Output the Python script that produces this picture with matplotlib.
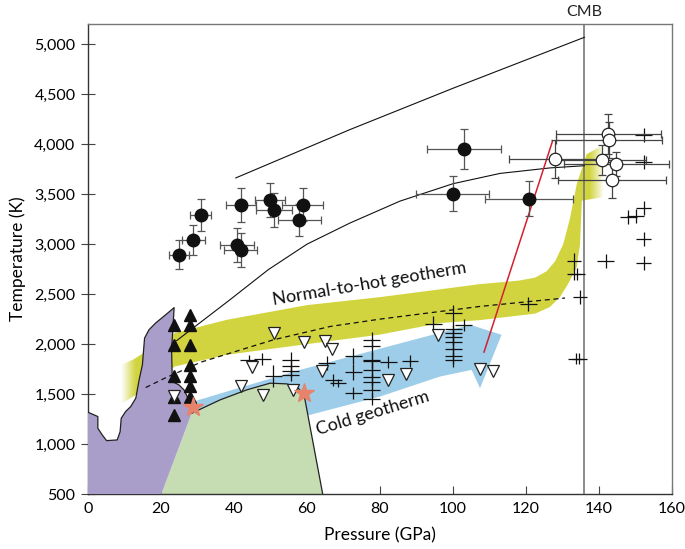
import matplotlib
matplotlib.use("Agg")
import matplotlib.pyplot as plt
import numpy as np
from matplotlib.patches import Polygon
from matplotlib.ticker import FuncFormatter, MultipleLocator

plt.rcParams['font.family'] = ['Lato', 'DejaVu Sans']

# ---- data (pressure in GPa, temperature in K) ----
cmb_p = 136

purple_p = [0, 0, 2.7, 2.7, 3.9, 5.1, 8.0, 8.8, 9.1, 10.3, 11.7, 13.1, 14.0, 14.9, 15.5,
            16.7, 18.5, 21.3, 23.6, 22.9, 23.1, 24.9, 26.3, 27.2, 28.4, 20.1]
purple_t = [500, 1318, 1275, 1158, 1091, 1034, 1041, 1124, 1258, 1325, 1375, 1459, 1642, 1792, 2060,
            2143, 2210, 2294, 2365, 1943, 1625, 1592, 1542, 1475, 1308, 500]

green_p = [28.4, 36.2, 43.5, 49.9, 54.4, 57.2, 59.2, 64.3, 20.1]
green_t = [1308, 1442, 1542, 1609, 1602, 1575, 1492, 500, 500]

yel_top_p = [9.0, 12.6, 23.8, 38, 60, 80, 107.4, 118, 122.5, 125.7, 128, 130.2, 132, 133.9, 136.6, 139.8, 141]
yel_top_t = [1790, 1850, 2110, 2243, 2390, 2470, 2600, 2635, 2665, 2730, 2830, 3000, 3250, 3600, 3900, 3965, 3975]
yel_bot_p = [9.0, 12.6, 23.8, 38, 66.3, 80, 96.4, 107.4, 122.5, 126.5, 129.3, 131.5, 133.9, 134.8, 135.3, 141]
yel_bot_t = [1400, 1480, 1776, 1893, 2030, 2095, 2210, 2240, 2305, 2370, 2470, 2600, 2770, 3000, 3435, 3470]

blue_p = [28.9, 38, 58.1, 80, 104.7, 113.3, 107.4, 105.1, 96.4, 80, 60.8, 40, 28.9]
blue_t = [1425, 1525, 1742, 1954, 2193, 2093, 1558, 1742, 1675, 1475, 1292, 1150, 1300]

upper_p = [40.5, 71.8, 100, 136]
upper_t = [3663, 4147, 4560, 5070]
lower_p = [24.3, 38.9, 49.4, 60, 71.8, 85.5, 100, 112.9, 126.6, 136]
lower_t = [2035, 2444, 2745, 3000, 3212, 3431, 3605, 3708, 3763, 3785]
dash_p = [15.8, 20.8, 31, 50.8, 66.3, 80, 107.4, 130.7]
dash_t = [1565, 1655, 1820, 2043, 2176, 2250, 2377, 2461]
red_p = [108.5, 127.3]
red_t = [1920, 4035]

star_p = [28.7, 59.3]
star_t = [1370, 1512]

tri_up_p = [23.6, 23.6, 23.6, 23.6, 23.6, 27.9, 27.9, 27.9, 27.9, 27.9, 27.9, 27.9]
tri_up_t = [2193, 1993, 1683, 1475, 1292, 2293, 2193, 1993, 1793, 1683, 1583, 1475]

tri_dn_p = [23.6, 41.9, 44.8, 47.9, 51.0, 56.2, 59.1, 64.9, 66.9, 64.0, 82.2, 87.2, 96.0, 107.4, 111.0]
tri_dn_t = [1480, 1580, 1773, 1490, 2110, 1542, 2022, 2026, 1952, 1728, 1642, 1702, 2093, 1750, 1735]

dot_p = [25.0, 28.9, 30.9, 41.9, 40.9, 41.8, 49.9, 51.0, 58.8, 57.9, 103.0, 99.9, 120.9]
dot_t = [2895, 3045, 3295, 3395, 2995, 2940, 3440, 3340, 3395, 3240, 3955, 3506, 3452]
dot_xerr = [2.7, 3.1, 2.9, 4.1, 4.6, 4.6, 4.1, 5.0, 5.7, 5.8, 10.2, 10.0, 12.0]
dot_yerr = [145, 150, 160, 170, 170, 170, 170, 170, 165, 160, 200, 175, 175]

oc_p = [128.0, 142.6, 142.8, 140.7, 144.7, 143.6]
oc_t = [3855, 4100, 4040, 3840, 3800, 3640]
oc_xerr = [12.6, 14.5, 14.5, 12.3, 14.4, 14.7]
oc_yerr = [190, 200, 180, 150, 120, 180]

cross_p = [44.0, 47.8, 50.8, 55.5, 55.5, 55.5, 55.5, 65.4, 67.2, 68.5, 72.7, 72.7, 72.7,
           77.7, 77.7, 77.7, 77.7, 77.7, 77.7, 77.7, 77.7, 77.7, 82.3, 88.2, 94.6,
           100.1, 100.1, 100.1, 100.1, 100.1, 100.1, 100.1, 100.1, 102.9,
           120.6, 133.2, 133.2, 134.1, 134.8, 133.6, 134.6, 141.8, 148.0, 150.1,
           152.2, 152.2, 152.2, 152.2, 152.2]
cross_t = [1843, 1855, 1680, 1843, 1780, 1730, 1690, 1810, 1642, 1610, 1876, 1716, 1509,
           2043, 1976, 1843, 1826, 1743, 1669, 1625, 1542, 1449, 1820, 1826, 2200,
           2311, 2151, 2110, 2070, 2016, 1950, 1876, 1843, 2193,
           2400, 2835, 2700, 2700, 2470, 1855, 1855, 2835, 3270, 3285,
           3360, 3050, 2810, 4090, 3820]
cross_xerr = [2.3] * 34 + [2.3, 2.0, 2.0, 2.0, 2.0, 2.0, 2.0, 2.3, 2.3, 2.3, 2.0, 2.0, 2.0, 2.3, 2.3]
cross_yerr = [50, 60, 110, 80, 60, 60, 60, 70, 60, 40, 80, 80, 60,
              80, 80, 80, 80, 80, 80, 80, 80, 60, 60, 60, 80,
              80, 80, 80, 80, 80, 80, 80, 70, 60,
              70, 80, 60, 60, 70, 55, 55, 70, 70, 70,
              70, 70, 70, 70, 70]

# ---- figure ----
fig = plt.figure(figsize=(6.85, 5.49), dpi=100)
ax = fig.add_axes([88 / 685, 55 / 549, 584 / 685, 469.7 / 549])

# yellow band with faded ends
yel_poly = Polygon(np.column_stack([yel_top_p + yel_bot_p[::-1], yel_top_t + yel_bot_t[::-1]]),
                   closed=True, facecolor='none', edgecolor='none', transform=ax.transData)
gx = np.linspace(0, 160, 800)
alpha = np.clip((gx - 9.0) / 4.0, 0, 1) * np.clip((141.5 - gx) / 4.0, 0, 1)
rgba = np.zeros((2, gx.size, 4))
rgba[..., 0] = 0.82
rgba[..., 1] = 0.835
rgba[..., 2] = 0.25
rgba[..., 3] = alpha
im = ax.imshow(rgba, extent=[0, 160, 500, 5200], origin='lower', aspect='auto', zorder=1,
               interpolation='bilinear')
im.set_clip_path(yel_poly)

ax.fill(blue_p, blue_t, color='#9dcde8', lw=0, zorder=1)
ax.fill(green_p, green_t, color='#c6dcb3', lw=0, zorder=2)
ax.plot(green_p[:8], green_t[:8], color='#222222', lw=0.9, zorder=2.5)
ax.fill(purple_p, purple_t, color='#a99ec9', lw=0, zorder=3)
ax.plot(purple_p[1:25], purple_t[1:25], color='#222222', lw=0.9, zorder=3.5)

ax.axvline(cmb_p, color='#777777', lw=1.2, zorder=4)
ax.plot(upper_p, upper_t, color='#111111', lw=0.8, zorder=4)
ax.plot(lower_p, lower_t, color='#111111', lw=0.8, zorder=4)
ax.plot(dash_p, dash_t, color='#111111', lw=0.9, ls=(0, (4, 3)), zorder=4)
ax.plot(red_p, red_t, color='#d42030', lw=1.1, zorder=4.5)

ax.errorbar(cross_p, cross_t, xerr=cross_xerr, yerr=cross_yerr, fmt='none',
            ecolor='#111111', elinewidth=0.9, capsize=0, zorder=5)
ax.errorbar(dot_p, dot_t, xerr=dot_xerr, yerr=dot_yerr, fmt='o', color='#111111', ms=9,
            ecolor='#555555', elinewidth=0.9, capsize=3, capthick=0.9, zorder=6)
ax.errorbar(oc_p, oc_t, xerr=oc_xerr, yerr=oc_yerr, fmt='o', mfc='white', mec='#222222',
            mew=0.9, ms=9, ecolor='#444444', elinewidth=0.9, capsize=3, capthick=0.9, zorder=6)
ax.plot(tri_up_p, tri_up_t, '^', color='#111111', ms=8, ls='none', zorder=6)
ax.plot(tri_dn_p, tri_dn_t, 'v', mfc='white', mec='#222222', mew=0.9, ms=9, ls='none', zorder=6)
ax.plot(star_p, star_t, '*', color='#e8836b', ms=15, ls='none', zorder=7)

ax.text(77.0, 2600, 'Normal-to-hot geotherm', rotation=9.5, ha='center', va='center',
        fontsize=13, color='#111111', zorder=8)
ax.text(78.0, 1310, 'Cold geotherm', rotation=17, ha='center', va='center',
        fontsize=13, color='#111111', zorder=8)
ax.text(cmb_p, 5250, 'CMB', ha='center', va='bottom', fontsize=11.5, color='#222222')

ax.set_xlim(0, 160)
ax.set_ylim(500, 5200)
ax.xaxis.set_major_locator(MultipleLocator(20))
ax.set_yticks(np.arange(500, 5001, 500))
ax.yaxis.set_major_formatter(FuncFormatter(lambda v, pos: f"{int(v):,}"))
ax.tick_params(axis='x', direction='in', length=6, width=0.8, labelsize=11.5, pad=6, color='#444444')
ax.tick_params(axis='y', direction='inout', length=10, width=0.8, labelsize=11.5, pad=4, color='#444444')
for side in ['left', 'bottom']:
    ax.spines[side].set_color('#333333')
    ax.spines[side].set_linewidth(1.0)
for side in ['top', 'right']:
    ax.spines[side].set_color('#777777')
    ax.spines[side].set_linewidth(1.0)
ax.set_xlabel('Pressure (GPa)', fontsize=12.5, labelpad=8)
ax.set_ylabel('Temperature (K)', fontsize=12.5, labelpad=6)

fig.savefig('out.png', dpi=100)
